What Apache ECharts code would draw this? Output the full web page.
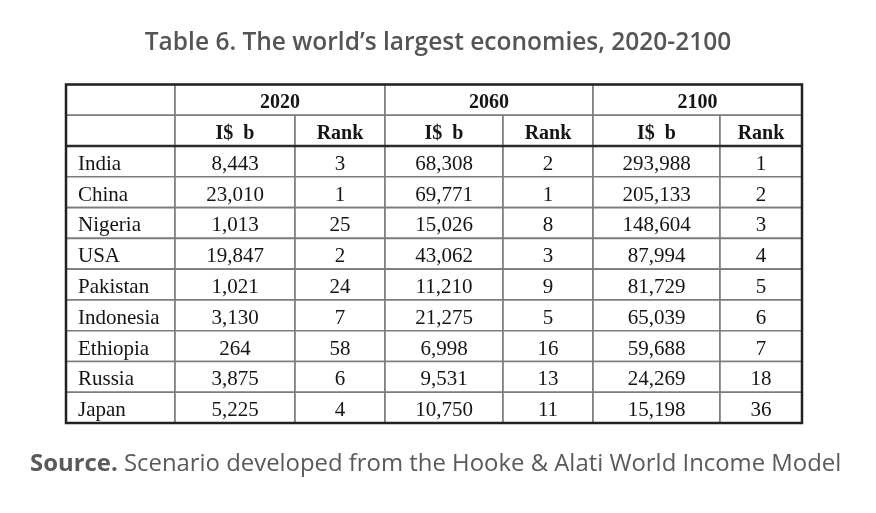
<!DOCTYPE html>
<html>
<head>
<meta charset="utf-8">
<script src="https://cdn.jsdelivr.net/npm/echarts@6/dist/echarts.min.js"></script>
<style>
html, body { margin: 0; padding: 0; background: #fff; }
#main { width: 876px; height: 513px; }
</style>
</head>
<body>
<div id="main"></div>
<script>
var countries = ['India', 'China', 'Nigeria', 'USA', 'Pakistan', 'Indonesia', 'Ethiopia', 'Russia', 'Japan'];
var years = ['2020', '2060', '2100'];
var subHeads = ['I$  b', 'Rank'];
var gdp2020 = [8443, 23010, 1013, 19847, 1021, 3130, 264, 3875, 5225];
var rank2020 = [3, 1, 25, 2, 24, 7, 58, 6, 4];
var gdp2060 = [68308, 69771, 15026, 43062, 11210, 21275, 6998, 9531, 10750];
var rank2060 = [2, 1, 8, 3, 9, 5, 16, 13, 11];
var gdp2100 = [293988, 205133, 148604, 87994, 81729, 65039, 59688, 24269, 15198];
var rank2100 = [1, 2, 3, 4, 5, 6, 7, 18, 36];

// layout: column edges (px from the table's left edge), rows are 1 unit each
var colEdges = [0, 109, 229, 319, 437, 527, 654, 736];
var headRows = 2;

var chart = echarts.init(document.getElementById('main'));

function fmt(v) {
    return v.toLocaleString('en-US');
}

// build cells: value = [x0, x1, row], plus text info
var cells = [];
function addCell(c0, c1, row, text, bold, left) {
    cells.push({
        value: [colEdges[c0], colEdges[c1], row],
        text: text,
        bold: bold,
        left: left
    });
}

addCell(0, 1, 0, '', true);
addCell(0, 1, 1, '', true);
years.forEach(function(y, i) {
    addCell(1 + i * 2, 3 + i * 2, 0, y, true);
    subHeads.forEach(function(s, j) {
        addCell(1 + i * 2 + j, 2 + i * 2 + j, 1, s, true);
    });
});
var cols = [gdp2020, rank2020, gdp2060, rank2060, gdp2100, rank2100];
countries.forEach(function(name, r) {
    addCell(0, 1, headRows + r, name, false, true);
    cols.forEach(function(arr, c) {
        addCell(c + 1, c + 2, headRows + r, fmt(arr[r]), false);
    });
});

function renderCell(params, api) {
    var cell = cells[params.dataIndex];
    var p0 = api.coord([api.value(0), api.value(2)]);
    var p1 = api.coord([api.value(1), api.value(2) + 1]);
    var cx = cell.left ? p0[0] + 12 : (p0[0] + p1[0]) / 2;
    return {
        type: 'group',
        children: [
            {
                type: 'rect',
                shape: { x: p0[0], y: p0[1], width: p1[0] - p0[0], height: p1[1] - p0[1] },
                style: { fill: '#fff', stroke: '#7d7d7d', lineWidth: 1.6 }
            },
            {
                type: 'text',
                style: {
                    text: cell.text,
                    x: cx,
                    y: (p0[1] + p1[1]) / 2 + 3,
                    align: cell.left ? 'left' : 'center',
                    verticalAlign: 'middle',
                    font: cell.bold ? 'bold 20px "Liberation Serif", serif' : '21px "Liberation Serif", serif',
                    fill: '#151515'
                }
            }
        ]
    };
}

function renderFrame(params, api) {
    var p0 = api.coord([api.value(0), api.value(2)]);
    var p1 = api.coord([api.value(1), api.value(3)]);
    var ph = api.coord([api.value(0), headRows]);
    return {
        type: 'group',
        children: [
            {
                type: 'line',
                shape: { x1: p0[0], y1: ph[1], x2: p1[0], y2: ph[1] },
                style: { stroke: '#2a2a2a', lineWidth: 2.5 }
            },
            {
                type: 'rect',
                shape: { x: p0[0], y: p0[1], width: p1[0] - p0[0], height: p1[1] - p0[1] },
                style: { fill: null, stroke: '#222', lineWidth: 2.5 }
            }
        ]
    };
}

var option = {
    backgroundColor: '#fff',
    animation: false,
    title: [
        {
            text: 'Table 6. The world\u2019s largest economies, 2020-2100',
            left: 'center',
            top: 23,
            textStyle: {
                fontFamily: '"Open Sans", sans-serif',
                fontWeight: 600,
                fontSize: 24.5,
                lineHeight: 30,
                color: '#555'
            }
        },
        {
            text: '{b|Source.} Scenario developed from the Hooke & Alati World Income Model',
            left: 25,
            top: 444,
            textStyle: {
                fontFamily: '"Open Sans", sans-serif',
                fontWeight: 'normal',
                fontSize: 23.9,
                lineHeight: 30,
                color: '#5a5a5a',
                rich: {
                    b: {
                        fontFamily: '"Open Sans", sans-serif',
                        fontWeight: 'bold',
                        fontSize: 23.9,
                        lineHeight: 30,
                        color: '#5a5a5a'
                    }
                }
            }
        }
    ],
    grid: {
        left: 66,
        top: 84.5,
        width: 736,
        height: 338.5
    },
    xAxis: {
        type: 'value',
        min: 0,
        max: colEdges[colEdges.length - 1],
        show: false
    },
    yAxis: {
        type: 'value',
        min: 0,
        max: headRows + countries.length,
        inverse: true,
        show: false
    },
    series: [
        {
            type: 'custom',
            renderItem: renderCell,
            data: cells,
            silent: true
        },
        {
            type: 'custom',
            renderItem: renderFrame,
            data: [[0, colEdges[colEdges.length - 1], 0, headRows + countries.length]],
            silent: true,
            z: 3
        }
    ]
};
chart.setOption(option);
</script>
</body>
</html>
